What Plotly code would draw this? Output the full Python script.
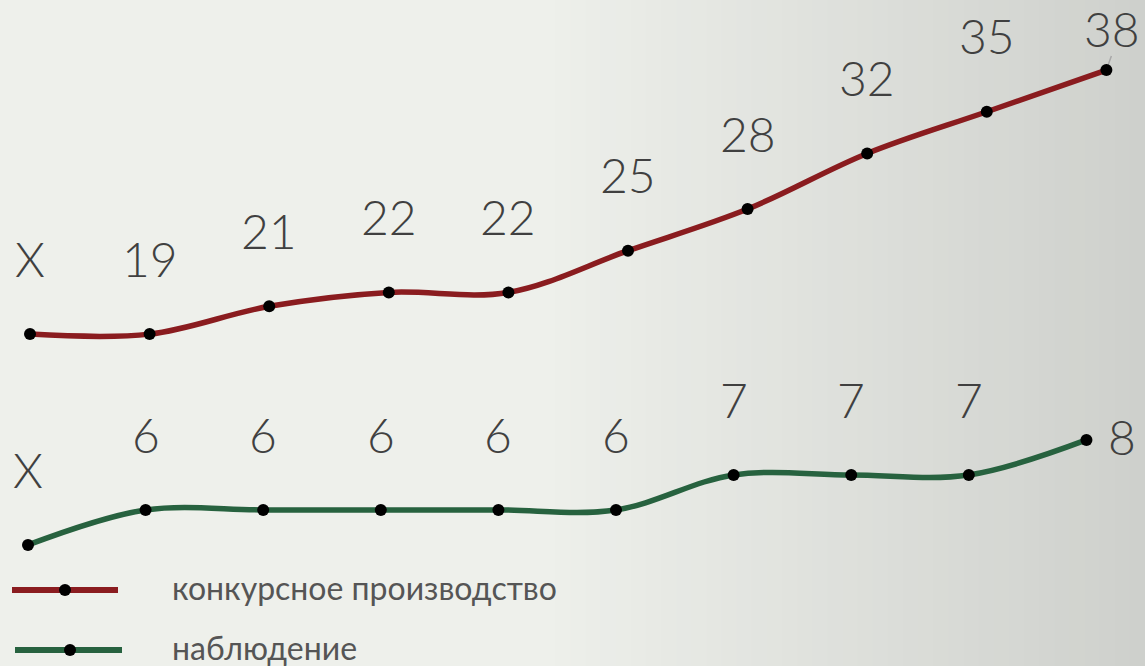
import plotly.graph_objects as go

# ---- data ----
periods = list(range(10))
red_values = [19, 19, 21, 22, 22, 25, 28, 32, 35, 38]
red_labels = ["X", "19", "21", "22", "22", "25", "28", "32", "35", "38"]
green_values = [5, 6, 6, 6, 6, 6, 7, 7, 7, 8]
green_labels = ["X", "6", "6", "6", "6", "6", "7", "7", "7", "8"]
series_names = ["конкурсное производство", "наблюдение"]

RED = "#8A1C1F"
GREEN = "#27623F"
TXT = "#404040"
FONT = "Lato"

W, H = 1145, 666
fig = go.Figure()

# background gradient (left light, right grayer)
def lerp(c1, c2, t):
    return "rgb(%d,%d,%d)" % tuple(round(a + (b - a) * t) for a, b in zip(c1, c2))

c_left = (238, 240, 235)
c_right = (206, 208, 204)
start = 540
n = 40
shapes = [dict(type="rect", xref="paper", yref="paper", x0=0, x1=start / W, y0=0, y1=1,
               fillcolor=lerp(c_left, c_right, 0), line_width=0, layer="below")]
for k in range(n):
    x0 = start + (W - start) * k / n
    x1 = start + (W - start) * (k + 1) / n + 1
    shapes.append(dict(type="rect", xref="paper", yref="paper", x0=x0 / W, x1=min(x1 / W, 1),
                       y0=0, y1=1, fillcolor=lerp(c_left, c_right, (k + 0.5) / n),
                       line_width=0, layer="below"))

# small leader line from the last red point to its label
shapes.append(dict(type="line", xref="x", yref="y", xsizemode="pixel", ysizemode="pixel",
                   xanchor=periods[-1], yanchor=red_values[-1], x0=0, x1=5, y0=0, y1=14,
                   line=dict(color="#A8A8A8", width=1.5), layer="below"))

fig.add_trace(go.Scatter(
    x=periods, y=red_values, mode="lines+markers", name=series_names[0],
    line=dict(color=RED, width=5.5, shape="spline"),
    marker=dict(color="black", size=12), xaxis="x", yaxis="y", showlegend=False))
fig.add_trace(go.Scatter(
    x=periods, y=green_values, mode="lines+markers", name=series_names[1],
    line=dict(color=GREEN, width=5.5, shape="spline"),
    marker=dict(color="black", size=12), xaxis="x2", yaxis="y2", showlegend=False))

LBL = dict(family=FONT, size=48, color=TXT, weight=300)
annotations = []
for i, (v, lab) in enumerate(zip(red_values, red_labels)):
    xs, ys = 0, 76
    if i == len(red_values) - 1:
        xs, ys = 6, 42
    annotations.append(dict(x=periods[i], y=v, xref="x", yref="y", text=lab, showarrow=False,
                            xshift=xs, yshift=ys, yanchor="middle", font=LBL))
for i, (v, lab) in enumerate(zip(green_values, green_labels)):
    xs, ys = 0, 75
    if i == len(green_values) - 1:
        xs, ys = 36, 3
    annotations.append(dict(x=periods[i], y=v, xref="x2", yref="y2", text=lab, showarrow=False,
                            xshift=xs, yshift=ys, yanchor="middle", font=LBL))

# manual legend
legend_rows = [(series_names[0], RED, 590, 12, 118, 65), (series_names[1], GREEN, 650, 15, 122, 70)]
for name, col, ypx, xa, xb, xd in legend_rows:
    yp = 1 - ypx / H
    shapes.append(dict(type="line", xref="paper", yref="paper", x0=xa / W, x1=xb / W, y0=yp, y1=yp,
                       line=dict(color=col, width=6)))
    shapes.append(dict(type="circle", xref="paper", yref="paper",
                       x0=(xd - 6) / W, x1=(xd + 6) / W, y0=1 - (ypx + 6) / H, y1=1 - (ypx - 6) / H,
                       fillcolor="black", line_width=0))
    annotations.append(dict(x=170 / W, y=1 - (ypx - 3) / H, xref="paper", yref="paper", text=name,
                            showarrow=False, xanchor="left", yanchor="middle",
                            font=dict(family=FONT, size=32, color="#555555")))

hidden = dict(visible=False, showgrid=False, zeroline=False, fixedrange=True)
fig.update_layout(
    width=W, height=H, margin=dict(l=0, r=0, t=0, b=0),
    paper_bgcolor="#EEF0EB", plot_bgcolor="rgba(0,0,0,0)",
    xaxis=dict(range=[-0.251, 9.323], **hidden),
    yaxis=dict(range=[-4.88, 43.04], **hidden),
    xaxis2=dict(range=[-0.238, 9.498], overlaying="x", **hidden),
    yaxis2=dict(range=[1.54, 20.57], overlaying="y", **hidden),
    shapes=shapes, annotations=annotations, showlegend=False,
)

fig.write_html("out.html", config={"displayModeBar": False},
               post_script="document.body.style.margin='0';document.body.style.overflow='hidden';")
